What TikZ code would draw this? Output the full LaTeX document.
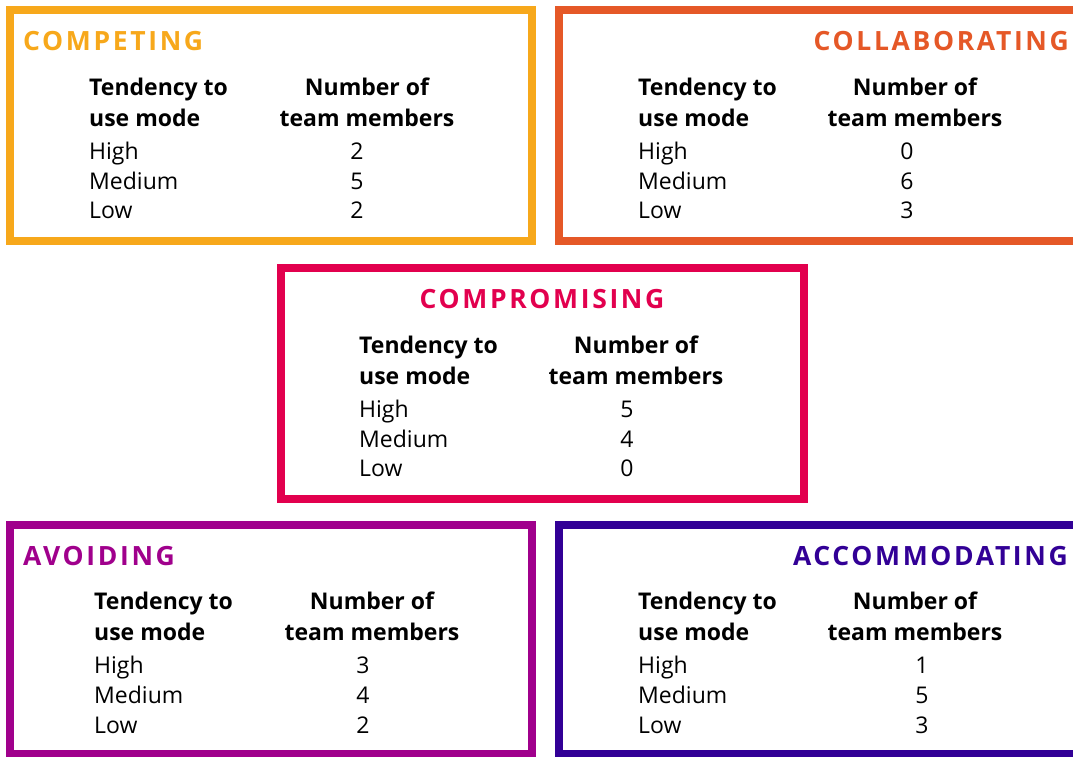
\documentclass[tikz,border=0pt]{standalone}
\usepackage{fontspec}
\setmainfont{Open Sans}
\definecolor{cCompeting}{RGB}{247,168,27}
\definecolor{cCollab}{RGB}{229,88,39}
\definecolor{cCompro}{RGB}{226,0,78}
\definecolor{cAvoid}{RGB}{160,0,140}
\definecolor{cAccom}{RGB}{50,0,150}
\newcommand\modetable[7]{%
  % #1 name, #2 top y, #3 col1 x, #4 col2 header centre, #5 number centre, #6 #7 values
  \node[head,anchor=base west] (#1-t1) at (#3,#2+85) {Tendency to};
  \node[head,anchor=base west] (#1-t2) at (#3,#2+116) {use mode};
  \node[head,anchor=base] (#1-n1) at (#4,#2+85) {Number of};
  \node[head,anchor=base] (#1-n2) at (#4,#2+116) {team members};
  \node[cell,anchor=base west] (#1-hi) at (#3,#2+149) {High};
  \node[cell,anchor=base west] (#1-me) at (#3,#2+179) {Medium};
  \node[cell,anchor=base west] (#1-lo) at (#3,#2+208.5) {Low};
  \foreach \v/\dy/\k in {#6/149/a,#7/179/b} {
    \node[cell,anchor=base] (#1-v\k) at (#5,#2+\dy) {\v};
  }
}
\begin{document}
\begin{tikzpicture}[x=1pt,y=-1pt,
  frame/.style={line width=8pt},
  title/.style={font=\fontsize{26.5}{26.5}\selectfont\bfseries\addfontfeature{LetterSpace=10}, inner sep=0},
  head/.style={font=\fontsize{23}{23}\selectfont\bfseries, inner sep=0},
  cell/.style={font=\fontsize{23}{23}\selectfont, inner sep=0}]
\useasboundingbox (0,0) rectangle (1073,756);

% frames
\draw[frame,cCompeting] (10,10) rectangle (532,241);
\draw[frame,cCollab] (558.5,10) rectangle (1090,241);
\draw[frame,cCompro] (281,268) rectangle (803.5,499);
\draw[frame,cAvoid] (10,524.5) rectangle (532,754);
\draw[frame,cAccom] (558.5,524.5) rectangle (1090,754);

% titles
\node[title,text=cCompeting,anchor=base west] (competing) at (23,50.5) {COMPETING};
\node[title,text=cCollab,anchor=base east] (collab) at (1069,50.5) {COLLABORATING};
\node[title,text=cCompro,anchor=base] (compro) at (542,308.5) {COMPROMISING};
\node[title,text=cAvoid,anchor=base west] (avoid) at (23,565) {AVOIDING};
\node[title,text=cAccom,anchor=base east] (accom) at (1068,565) {ACCOMMODATING};

% tables
\modetable{cp}{10}{89}{367}{357}{2}{5}
\node[cell,anchor=base] (cp-vc) at (357,218.5) {2};
\modetable{cl}{10}{638}{915}{907}{0}{6}
\node[cell,anchor=base] (cl-vc) at (907,218.5) {3};
\modetable{cr}{268}{359}{636}{627}{5}{4}
\node[cell,anchor=base] (cr-vc) at (627,476.5) {0};
\modetable{av}{524.5}{94}{372}{363}{3}{4}
\node[cell,anchor=base] (av-vc) at (363,733) {2};
\modetable{ac}{524.5}{638}{915}{922}{1}{5}
\node[cell,anchor=base] (ac-vc) at (922,733) {3};
\end{tikzpicture}
\end{document}
